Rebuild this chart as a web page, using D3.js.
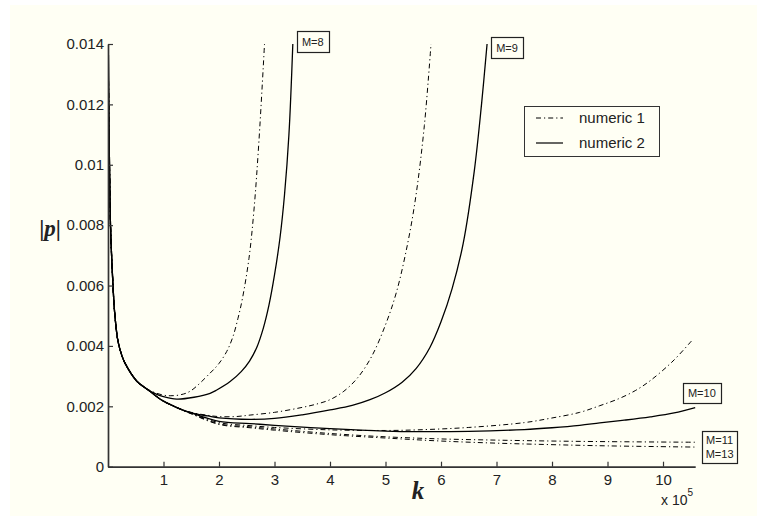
<!DOCTYPE html>
<html>
<head>
<meta charset="utf-8">
<script src="https://cdn.jsdelivr.net/npm/d3@7"></script>
<style>
  body { margin: 0; background: #fff; }
  svg text { font-family: "Liberation Sans", Arial, sans-serif; fill: #222; }
</style>
</head>
<body>
<div id="chart"></div>
<script>
// k in units of 1e5, p
// shared decay at small k (all M together)
var head = [[0.006,0.0140],[0.012,0.0122],[0.027,0.0100],[0.045,0.0080],[0.09,0.0060],
  [0.12,0.0051],[0.18,0.00415],[0.25,0.00368],[0.306,0.00343],[0.52,0.00283],[0.68,0.0026]]
// M>=9 still together
var bundle = [[0.85,0.00236],[1.0,0.00217],[1.25,0.00195]]

var m8num1 = [[0.85,0.00245],[1.0,0.00237],[1.12,0.00235],[1.3,0.00238],[1.48,0.0025],[1.84,0.0031],
  [2.0,0.00342],[2.14,0.00382],[2.25,0.0043],[2.34,0.0049],[2.42,0.00555],[2.54,0.0069],[2.63,0.0085],
  [2.72,0.0108],[2.82,0.0140]]
var m8num2 = [[0.85,0.00242],[1.0,0.00232],[1.24,0.00224],[1.55,0.0023],[1.84,0.00243],[1.96,0.00254],
  [2.2,0.00282],[2.4,0.00315],[2.55,0.0035],[2.68,0.00395],[2.8,0.0046],[2.9,0.00535],[3.0,0.00635],
  [3.1,0.0076],[3.18,0.009],[3.26,0.011],[3.33,0.0140]]
var m9num1 = [[1.5,0.0018],[1.8,0.0017],[2.0,0.00166],[2.3,0.00166],[2.56,0.00171],[3.0,0.0018],
  [3.46,0.00195],[3.75,0.00207],[4.0,0.00222],[4.25,0.0025],[4.5,0.00295],[4.75,0.00365],[5.0,0.0047],
  [5.2,0.0058],[5.4,0.0074],[5.55,0.009],[5.7,0.0113],[5.82,0.0140]]
var m9num2 = [[1.5,0.00178],[1.8,0.00168],[2.0,0.00162],[2.56,0.00157],[3.0,0.0016],[3.5,0.00172],
  [4.0,0.00188],[4.4,0.00203],[4.72,0.00222],[5.0,0.00245],[5.3,0.0028],[5.55,0.00325],[5.8,0.00395],
  [6.0,0.0048],[6.2,0.0059],[6.4,0.0074],[6.6,0.0098],[6.73,0.012],[6.83,0.0140]]
var m10num1 = [[1.5,0.00177],[2.0,0.00146],[2.56,0.00136],[3.0,0.0013],[4.0,0.00122],[5.0,0.0012],
  [5.57,0.00122],[6.5,0.0013],[7.5,0.00146],[7.96,0.0016],[8.5,0.0018],[8.86,0.00202],[9.2,0.00225],
  [9.5,0.00252],[9.77,0.00285],[10.18,0.0035],[10.54,0.00422]]
var m10num2 = [[1.5,0.00178],[2.0,0.0015],[2.56,0.00143],[3.0,0.00137],[4.0,0.00126],[5.0,0.00118],
  [5.57,0.00116],[6.5,0.00117],[7.5,0.00123],[8.0,0.00129],[8.5,0.00137],[8.86,0.00145],[9.3,0.00154],
  [9.77,0.00165],[10.2,0.00178],[10.58,0.00196]]
var m11num1 = [[1.5,0.00176],[2.0,0.00142],[2.56,0.00132],[3.0,0.00125],[4.0,0.0011],[5.0,0.00099],
  [6.0,0.00092],[7.0,0.00088],[8.0,0.00085],[9.0,0.00083],[10.58,0.00081]]
var m13num1 = [[1.5,0.00175],[2.0,0.0014],[2.56,0.00129],[3.0,0.00121],[4.0,0.00106],[5.0,0.00095],
  [6.0,0.00085],[7.0,0.00078],[8.0,0.00073],[9.0,0.00069],[10.58,0.00065]]

var xTicks = [1,2,3,4,5,6,7,8,9,10]
var yTicks = [0,0.002,0.004,0.006,0.008,0.01,0.012,0.014]
var legendNames = ["numeric 1", "numeric 2"]

// M labels, anchored at box centre in data coords
var mLabels = [
  {lines:["M=8"], k:3.69, p:0.01408, w:32, h:21},
  {lines:["M=9"], k:7.19, p:0.01388, w:32, h:21},
  {lines:["M=10"], k:10.70, p:0.00244, w:38, h:20},
  {lines:["M=11","M=13"], k:11.02, p:0.00065, w:35, h:32}
]

var curves = [
  {pts: head.concat(m8num1), dash:true},
  {pts: head.concat(m8num2), dash:false},
  {pts: head.concat(bundle, m9num1), dash:true},
  {pts: head.concat(bundle, m9num2), dash:false},
  {pts: head.concat(bundle, m10num1), dash:true},
  {pts: head.concat(bundle, m10num2), dash:false},
  {pts: head.concat(bundle, m11num1), dash:true},
  {pts: head.concat(bundle, m13num1), dash:true}
]

var W = 757, H = 518
var dashPattern = "5,3,1.2,3"

var svg = d3.select("#chart").append("svg")
  .attr("width", W).attr("height", H)

svg.append("rect").attr("x",10).attr("y",5).attr("width",W-10).attr("height",H-7)
  .attr("fill","#fffff4")

var x = d3.scaleLinear().domain([0,10.58]).range([108,695.2])
var y = d3.scaleLinear().domain([0,0.014]).range([466.7,44])

svg.append("defs").append("clipPath").attr("id","plot")
  .append("rect").attr("x",x(0)).attr("y",y(0.014)-1).attr("width",x(10.58)-x(0)+2).attr("height",y(0)-y(0.014)+1)

var line = d3.line()
  .x(function(d){return x(d[0])})
  .y(function(d){return y(d[1])})
  .curve(d3.curveCatmullRom.alpha(0.5))

svg.append("g").attr("clip-path","url(#plot)")
  .selectAll("path")
  .data(curves)
  .enter()
  .append("path")
  .attr("d",function(d){return line(d.pts)})
  .attr("fill","none")
  .attr("stroke","#000")
  .attr("stroke-width",function(d){return d.dash?1:1.3})
  .attr("stroke-dasharray",function(d){return d.dash?dashPattern:null})

// axes, ticks pointing inward
var xAxis = svg.append("g").attr("transform","translate(0,"+y(0)+")")
  .call(d3.axisBottom(x).tickValues(xTicks).tickSize(-5).tickSizeOuter(0).tickPadding(8))
var yAxis = svg.append("g").attr("transform","translate("+x(0)+",0)")
  .call(d3.axisLeft(y).tickValues(yTicks).tickSize(-5).tickSizeOuter(0).tickPadding(4)
    .tickFormat(function(d){return String(+d.toFixed(3))}))

;[xAxis,yAxis].forEach(function(a){
  a.selectAll("path").attr("stroke","#333").attr("stroke-width",1.7)
  a.selectAll("line").attr("stroke","#333").attr("stroke-width",1.2)
  a.selectAll("text").style("font-size","15px").attr("fill","#222")
    .style("font-family","'Liberation Sans', Arial, sans-serif")
})

// axis titles
svg.append("text").attr("x",418).attr("y",499)
  .attr("text-anchor","middle")
  .style("font-family","'Liberation Serif','Times New Roman',serif")
  .style("font-size","25px").style("font-weight","bold").style("font-style","italic")
  .attr("fill","#000").text("k")

var pl = svg.append("text").attr("x",50).attr("y",236)
  .attr("text-anchor","middle")
  .style("font-family","'Liberation Serif','Times New Roman',serif")
  .style("font-size","23px").style("font-weight","bold").attr("fill","#000")
pl.append("tspan").text("|")
pl.append("tspan").style("font-style","italic").text("p")
pl.append("tspan").text("|")

var mult = svg.append("text").attr("x",661).attr("y",505).style("font-size","14px")
mult.append("tspan").text("x 10")
mult.append("tspan").attr("dy",-9).style("font-size","10px").text("5")

// legend
var lg = svg.append("g")
lg.append("rect").attr("x",524.5).attr("y",106.5).attr("width",135).attr("height",50)
  .attr("fill","#fffff4").attr("stroke","#333").attr("stroke-width",1)
legendNames.forEach(function(n,i){
  var ly = 118 + i*25
  lg.append("line").attr("x1",536).attr("x2",563).attr("y1",ly).attr("y2",ly)
    .attr("stroke","#000").attr("stroke-width",i==0?1:1.2)
    .attr("stroke-dasharray",i==0?dashPattern:null)
  lg.append("text").attr("x",579).attr("y",ly+5).style("font-size","15px").text(n)
})

// M labels
mLabels.forEach(function(m){
  var cx = x(m.k), cy = y(m.p)
  var g = svg.append("g")
  g.append("rect").attr("x",Math.round(cx-m.w/2)+0.5).attr("y",Math.round(cy-m.h/2)+0.5)
    .attr("width",m.w).attr("height",m.h)
    .attr("fill","#fffff4").attr("stroke","#222").attr("stroke-width",1.2)
  m.lines.forEach(function(t,i){
    g.append("text").attr("x",cx).attr("text-anchor","middle")
      .attr("y",cy + 4 + (i-(m.lines.length-1)/2)*14)
      .style("font-size","11px").text(t)
  })
})
</script>
</body>
</html>
